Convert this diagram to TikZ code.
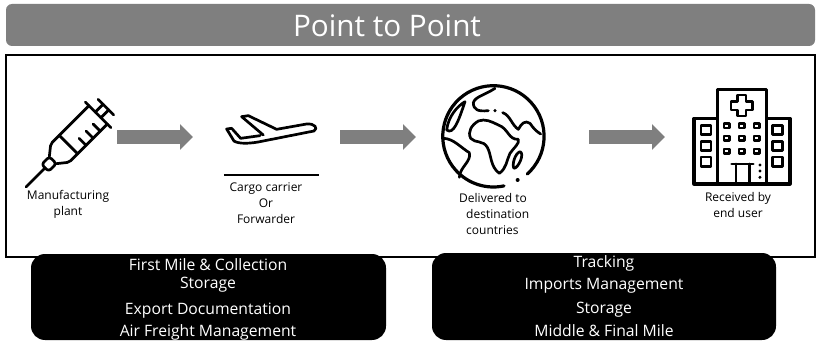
\documentclass[tikz,border=0pt]{standalone}
\usepackage{fontspec}
\setmainfont{Open Sans}
\usetikzlibrary{arrows.meta}
\definecolor{band}{HTML}{7F7F7F}
\tikzset{
  titlebox/.style={fill=band,draw=none,rounded corners=6pt},
  framebox/.style={draw=black,line width=2pt,fill=white},
  blackbox/.style={fill=black,draw=none,rounded corners=14pt},
  flow/.style={draw=band,line width=13.5pt,-{Triangle[length=13pt,width=25pt]}},
  icon/.style={draw=black,line width=3.2pt,line join=round,line cap=round},
  thinicon/.style={draw=black,line width=2.7pt,line join=round,line cap=round},
  lab/.style={font=\fontsize{12}{16}\selectfont,text=black,inner sep=0pt,align=center},
  srv/.style={font=\fontsize{15.7}{18}\selectfont,text=white,inner sep=0pt,align=center},
}
\begin{document}
\begin{tikzpicture}[x=1pt,y=-1pt]
\useasboundingbox (0,0) rectangle (817,342);
\fill[white] (0,0) rectangle (817,342);
\path[titlebox] (6,4) rectangle (815,46);
\node[font=\fontsize{29.7}{34}\selectfont,text=white,inner sep=0pt] (title) at (387,26) {Point to Point};
\path[framebox] (6,55) rectangle (815,257);
\path[blackbox] (31,254) rectangle (386,340);
\path[blackbox] (432,253) rectangle (776,340);
% services left
\node[srv] (l1) at (208,265) {First Mile \& Collection};
\node[srv] (l2) at (208,285) {Storage};
\node[srv] (l3) at (208,311) {Export Documentation};
\node[srv] (l4) at (208,332) {Air Freight Management};
% services right
\node[srv] (r1) at (604,263) {Tracking};
\node[srv] (r2) at (604,286) {Imports Management};
\node[srv] (r3) at (604,310) {Storage};
\node[srv] (r4) at (604,331) {Middle \& Final Mile};
% flow arrows
\coordinate (a1s) at (117,137); \coordinate (a1e) at (193,137);
\coordinate (a2s) at (340,137); \coordinate (a2e) at (416,137);
\coordinate (a3s) at (589,137); \coordinate (a3e) at (665,137);
\draw[flow] (a1s) -- (a1e);
\draw[flow] (a2s) -- (a2e);
\draw[flow] (a3s) -- (a3e);
% syringe
\begin{scope}[shift={(26,187)},rotate=45]
  \draw[thinicon] (0,0) -- (27,0);
  \draw[thinicon,rounded corners=3pt] (27,-5) rectangle (38,5);
  \draw[thinicon,rounded corners=2pt] (38,-5) -- (48,-13) -- (102,-13);
  \draw[thinicon,rounded corners=2pt] (38,5) -- (48,13) -- (102,13);
  \draw[thinicon] (60,-13) -- (60,13);
  \draw[thinicon] (72,13) -- (72,3) (82,13) -- (82,3) (92,13) -- (92,3);
  \draw[thinicon] (102,-18) -- (102,18);
  \draw[thinicon] (102,-4) -- (113,-4) (102,4) -- (113,4);
  \draw[thinicon] (113,-11) -- (113,11);
\end{scope}
% plane and rule
\begin{scope}[shift={(0,60)},x=0.3333pt,y=-0.3333pt]
  \draw[thinicon] (790,225) -- (725,170) -- (745,167) -- (830,208) -- (920,192)
     .. controls (945,190) and (955,205) .. (942,213) -- (790,243)
     .. controls (750,252) and (715,252) .. (702,243) -- (680,207) -- (695,205) -- (722,235) -- (780,227);
  \draw[black,line width=2pt] (672,345) -- (957,345);
\end{scope}
% globe and hospital
\begin{scope}[shift={(410,60)},x=0.3333pt,y=-0.3333pt]
  \draw[icon] (352,342) arc[start angle=48,end angle=-282,radius=152];
  \fill (323,360) circle (2pt);
  \draw[thinicon] (255,85) .. controls (225,105) and (195,110) .. (190,128) .. controls (190,150) and (205,155) .. (235,152);
  \fill (255,152) circle (1.7pt);
  \draw[thinicon] (278,158) .. controls (300,165) and (305,195) .. (325,208) .. controls (335,190) and (345,180) .. (360,190) .. controls (370,205) and (380,215) .. (392,222);
  \draw[thinicon] (205,183) .. controls (185,195) and (172,215) .. (182,235) .. controls (195,250) and (220,240) .. (232,262) .. controls (245,285) and (240,320) .. (268,340) .. controls (290,325) and (290,300) .. (300,280) .. controls (310,265) and (330,250) .. (325,238) .. controls (295,240) and (295,205) .. (265,195) .. controls (245,185) and (225,175) .. (205,183) -- cycle;
  \draw[thinicon] (330,275) .. controls (345,280) and (325,325) .. (312,325) .. controls (305,315) and (315,280) .. (330,275) -- cycle;
  \draw[thinicon] (165,125) .. controls (140,140) and (115,170) .. (110,210) .. controls (130,225) and (145,185) .. (165,125) -- cycle;
  \draw[thinicon] (100,235) .. controls (130,235) and (155,265) .. (178,278) .. controls (185,305) and (150,320) .. (148,352);
  % hospital
  \draw[icon] (922,372) -- (922,88) -- (1070,88) -- (1070,372);
  \draw[icon] (922,175) -- (852,175) -- (852,372) -- (1140,372) -- (1140,175) -- (1070,175);
  \draw[thinicon] (982,105) -- (1008,105) -- (1008,125) -- (1028,125) -- (1028,150) -- (1008,150) -- (1008,168) -- (982,168) -- (982,150) -- (963,150) -- (963,125) -- (982,125) -- cycle;
  \foreach \c in {950,995,1040} \foreach \r in {197,235,274}
    \draw[thinicon] (\c-8,\r-7) rectangle (\c+8,\r+7);
  \foreach \c in {888,1103} \foreach \r in {210,258,305}
    \draw[thinicon] (\c-15,\r-14) rectangle (\c+15,\r+14);
  \draw[thinicon] (965,312) -- (1030,312) (978,312) -- (978,372) (1018,312) -- (1018,372);
  \foreach \r in {315,333,352} \fill (1050,\r) circle (1.7pt);
\end{scope}
% captions
\node[lab] (c1) at (68,204) {Manufacturing\\plant};
\node[lab] (c2) at (266,203) {Cargo carrier\\Or\\Forwarder};
\node[lab,align=left,anchor=west] (c3) at (466,214) {\hspace*{-7pt}Delivered to\\destination\\countries};
\node[lab] (c4) at (738,205) {Received by\\end user};
\end{tikzpicture}
\end{document}
